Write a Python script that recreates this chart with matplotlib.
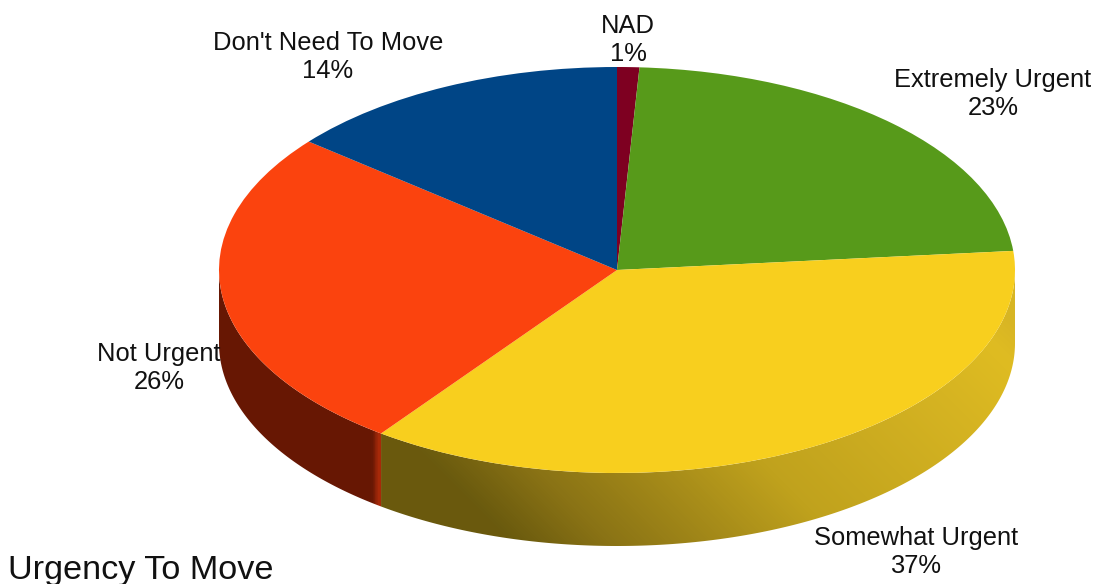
import matplotlib
matplotlib.use('Agg')
import matplotlib.pyplot as plt
import numpy as np
from matplotlib.colors import LinearSegmentedColormap
from matplotlib.patches import Polygon

plt.rcParams['font.family'] = ['Liberation Sans', 'DejaVu Sans']

categories = ['NAD', 'Extremely Urgent', 'Somewhat Urgent', 'Not Urgent', "Don't Need To Move"]
shares = [0.9, 22.6, 36.6, 25.8, 14.1]
percent_labels = ['1%', '23%', '37%', '26%', '14%']
colors = ['#7e0021', '#579a1a', '#f8cf1e', '#fb430e', '#004586']

# where the ellipse sits in the picture, in pixels
W, H = 1099, 584
cx, cy, rx, ry = 617, 270, 398, 203
depth = 73 / ry

label_px = [(628, 40), (993, 94), (916, 552), (159, 368), (328, 57)]


def to_x(px):
    return (px - cx) / rx


def to_y(py):
    return (cy - py) / ry


def wall(a0, a1):
    # outline of the side wall between two angles (degrees)
    a = np.radians(np.linspace(a0, a1, 200))
    top = np.column_stack([np.cos(a), np.sin(a)])
    bottom = top[::-1] - [0, depth]
    return np.vstack([top, bottom])


fig = plt.figure(figsize=(W / 100, H / 100), dpi=100)
ax = fig.add_axes([0, 0, 1, 1])

wedges, _ = ax.pie(shares, colors=colors, startangle=90, counterclock=False,
                   wedgeprops={'linewidth': 0, 'zorder': 3})
ax.set_aspect('auto')

# angle where yellow meets red on the rim
split = 90 - 360 * sum(shares[:3]) / sum(shares) + 360

extent = [to_x(0), to_x(W), to_y(H), to_y(0)]
px, py = np.meshgrid(np.arange(W), np.arange(H))

# yellow wall, lit from the right
stops = [(-70, '#6b5a0e'), (-30, '#6a5a0e'), (66, '#8a7315'), (300, '#c0a21d'),
         (550, '#d6b422'), (650, '#dfbc22'), (690, '#d8b524')]
t_min, t_max = stops[0][0], stops[-1][0]
yellow_cmap = LinearSegmentedColormap.from_list(
    'yellow_wall', [((t - t_min) / (t_max - t_min), c) for t, c in stops])
img = ax.imshow(px - py, extent=extent, cmap=yellow_cmap, vmin=t_min, vmax=t_max,
                aspect='auto', zorder=1)
img.set_clip_path(Polygon(wall(split, 360), transform=ax.transData))

# red wall, brighter just before the edge
red_cmap = LinearSegmentedColormap.from_list(
    'red_wall', [(0, '#681804'), (0.96, '#681804'), (0.99, '#a82a0a'), (1, '#a82a0a')])
img = ax.imshow(px, extent=extent, cmap=red_cmap, vmin=190, vmax=380,
                aspect='auto', zorder=1)
img.set_clip_path(Polygon(wall(180, split), transform=ax.transData))

ax.set_xlim(to_x(0), to_x(W))
ax.set_ylim(to_y(H), to_y(0))
ax.axis('off')

for name, pct, (x, y) in zip(categories, percent_labels, label_px):
    ax.text(to_x(x), to_y(y), name + '\n' + pct, ha='center', va='center',
            fontsize=18.4, linespacing=1.18, color='#111111', zorder=5)

ax.text(to_x(8), to_y(570), 'Urgency To Move', ha='left', va='center',
        fontsize=24.7, color='#111111', zorder=5)

fig.savefig('out.png', dpi=100)
